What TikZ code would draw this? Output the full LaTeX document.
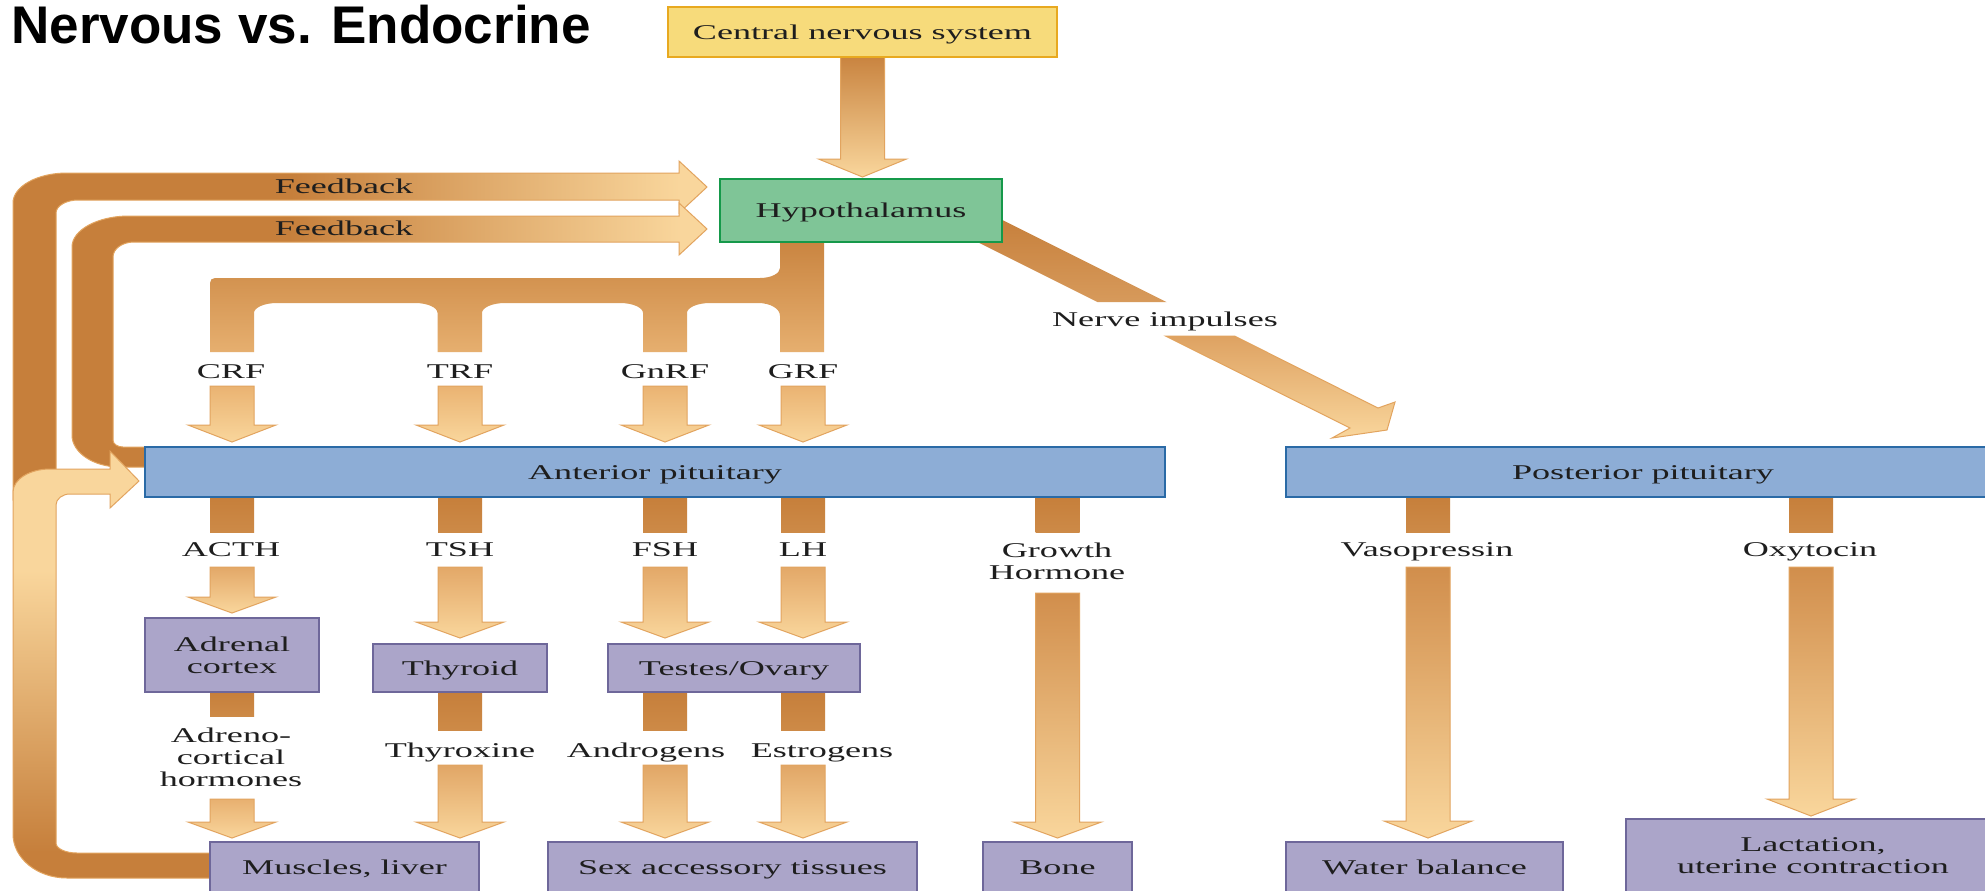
\documentclass[tikz,border=0pt]{standalone}
\usepackage{fontspec}
\newfontfamily\dfont{Liberation Serif}[FakeStretch=1.72]
\newfontfamily\tfont{Liberation Sans}
\definecolor{dk}{HTML}{C67F3B}
\definecolor{dk2}{HTML}{CD8A47}
\definecolor{lt}{HTML}{F9D69C}
\definecolor{ledge}{HTML}{E2A45F}
\definecolor{tA}{HTML}{C98440}
\definecolor{tB}{HTML}{E6AF6F}
\definecolor{aA}{HTML}{EAB372}
\definecolor{aB}{HTML}{E3A868}
\definecolor{aC}{HTML}{D18E4C}
\definecolor{aD}{HTML}{E1A666}
\definecolor{aE}{HTML}{E8B070}
\definecolor{nA}{HTML}{D79A5B}
\definecolor{nB}{HTML}{DEA262}
\definecolor{cnsfill}{HTML}{F7DB7B}
\definecolor{cnsdraw}{HTML}{E8A920}
\definecolor{hypfill}{HTML}{7FC597}
\definecolor{hypdraw}{HTML}{15994A}
\definecolor{pitfill}{HTML}{8DADD6}
\definecolor{pitdraw}{HTML}{2A6AA6}
\definecolor{tgtfill}{HTML}{ABA5C9}
\definecolor{tgtdraw}{HTML}{6E679A}
\definecolor{txt}{HTML}{1E1E1E}
\pgfdeclarehorizontalshading{fbB}{100bp}{color(0bp)=(dk); color(45bp)=(dk); color(73bp)=(lt); color(100bp)=(lt)}
\pgfdeclarehorizontalshading{fbC}{100bp}{color(0bp)=(dk); color(42bp)=(dk); color(73bp)=(lt); color(100bp)=(lt)}
\pgfdeclareverticalshading{fbA}{100bp}{color(0bp)=(dk); color(28bp)=(dk); color(61bp)=(lt); color(100bp)=(lt)}
% fat downward arrow: x, y start, y head back, y tip, top colour, bottom colour
\newcommand\fatdown[6]{%
  \path[band, top color=#5, bottom color=#6] (#1-22,#2) -- (#1+22,#2) -- (#1+22,#3) -- (#1+44,#3) -- (#1,#4) -- (#1-44,#3) -- (#1-22,#3) -- cycle;}
% short bar: x, y1, y2, top colour, bottom colour
\newcommand\stub[5]{%
  \path[top color=#4, bottom color=#5] (#1-22,#2) rectangle (#1+22,#3);}
\begin{document}
\begin{tikzpicture}[x=0.5pt,y=-0.5pt,
  lbl/.style={font=\dfont\fontsize{10.5}{11}\selectfont, text=txt, inner sep=0pt, align=center},
  one/.style={lbl, text height=7pt, text depth=0pt},
  tgt/.style={lbl, fill=tgtfill, draw=tgtdraw, line width=0.8pt},
  pit/.style={one, fill=pitfill, draw=pitdraw, line width=1pt, minimum height=25pt},
  band/.style={draw=ledge, line width=0.5pt}]
\useasboundingbox (0,0) rectangle (1985,890);
\clip (0,0) rectangle (1985,890);
\fill[white] (0,0) rectangle (1985,890);

% title
\node[anchor=base west, inner sep=0pt, font=\tfont\bfseries\fontsize{26.5}{30}\selectfont] (title) at (11,43) {Nervous vs. Endocrine};

% feedback band to hypothalamus (outer)
\path[band, shade, shading=fbB] (13,500) -- (13,203) .. controls (13,186.5) and (37,173) .. (67,173) -- (679,173) -- (679,161) -- (707,187) -- (679,213) -- (679,200) -- (78,200) .. controls (66.4,200) and (56,205.8) .. (56,213) -- (56,500) -- cycle;
% feedback band from anterior pituitary (inner)
\path[band, shade, shading=fbC] (146,447) -- (123,447) .. controls (117.5,447) and (113,443.9) .. (113,440) -- (113,257) .. controls (113,248.7) and (122.4,242) .. (134,242) -- (679,242) -- (679,255) -- (707,229) -- (679,203) -- (679,216) -- (129,216) .. controls (97.5,216) and (72,230) .. (72,247) -- (72,435) .. controls (72,452.7) and (93.5,467) .. (120,467) -- (146,467) -- cycle;
% band from muscles to anterior pituitary
\path[band, shade, shading=fbA] (211,878) -- (67,878) .. controls (37.2,878) and (13,858.3) .. (13,834) -- (13,492) .. controls (13,479.3) and (29.6,469) .. (50,469) -- (110,469) -- (110,451) -- (139,481) -- (110,508) -- (110,494) -- (70,494) .. controls (62.3,494) and (56,499) .. (56,505) -- (56,843) .. controls (56,848.5) and (65.4,853) .. (77,853) -- (211,853) -- cycle;

% releasing-factor tree below hypothalamus
\path[top color=tA, bottom color=tB] (780,240) -- (780,268) .. controls (780,273.5) and (771,278) .. (760,278)
  -- (215,278) .. controls (212,278) and (210,280) .. (210,283)
  -- (210,352) -- (254,352) -- (254,313) .. controls (254,307.5) and (264.4,303) .. (277,303)
  -- (415,303) .. controls (427.6,303) and (437.5,307.5) .. (437.5,313)
  -- (437.5,352) -- (482,352) -- (482,313) .. controls (482,307.5) and (492.4,303) .. (505,303)
  -- (620,303) .. controls (632.6,303) and (643,307.5) .. (643,313)
  -- (643,352) -- (687,352) -- (687,313) .. controls (687,307.5) and (697.4,303) .. (710,303)
  -- (758,303) .. controls (770,303) and (780,308.4) .. (780,316)
  -- (780,352) -- (824,352) -- (824,240) -- cycle;

% nerve impulses band
\path[top color=dk, bottom color=nA] (925.5,216) -- (994.5,216) -- (1166.5,302) -- (1097.5,302) -- cycle;
\path[band, top color=nB, bottom color=lt] (1165.5,336) -- (1234.5,336) -- (1378,408) -- (1395,402) -- (1387,430) -- (1332,438) -- (1350,428) -- cycle;

% CNS -> hypothalamus
\fatdown{862.5}{57}{159}{177}{tA}{lt}

% releasing factor arrows to anterior pituitary
\fatdown{232}{386}{425}{442}{aA}{lt}
\fatdown{460}{386}{425}{442}{aA}{lt}
\fatdown{665}{386}{425}{442}{aA}{lt}
\fatdown{803}{386}{425}{442}{aA}{lt}

% stubs below pituitaries
\stub{232}{497}{532}{dk}{dk2}
\stub{460}{497}{532}{dk}{dk2}
\stub{665}{497}{532}{dk}{dk2}
\stub{803}{497}{532}{dk}{dk2}
\stub{1057.5}{497}{532}{dk}{dk2}
\stub{1428}{497}{532}{dk}{dk2}
\stub{1811}{497}{532}{dk}{dk2}

% hormone arrows
\fatdown{232}{567}{597}{613}{aB}{lt}
\fatdown{460}{567}{622}{638}{aB}{lt}
\fatdown{665}{567}{622}{638}{aB}{lt}
\fatdown{803}{567}{622}{638}{aB}{lt}
\fatdown{1057.5}{593}{822}{838}{aC}{lt}
\fatdown{1428}{567}{821}{838}{aC}{lt}
\fatdown{1811}{567}{799}{816}{aC}{lt}

% stubs below glands
\stub{232}{692}{716}{dk}{dk2}
\stub{460}{692}{730}{dk}{dk2}
\stub{665}{692}{730}{dk}{dk2}
\stub{803}{692}{730}{dk}{dk2}

% arrows to target tissues
\fatdown{232}{799}{822}{838}{aE}{lt}
\fatdown{460}{765}{822}{838}{aD}{lt}
\fatdown{665}{765}{822}{838}{aD}{lt}
\fatdown{803}{765}{822}{838}{aD}{lt}

% boxes
\node[one, fill=cnsfill, draw=cnsdraw, line width=1.2pt, minimum width=194.5pt, minimum height=25pt] (cns) at (862.5,32) {Central nervous system};
\node[one, fill=hypfill, draw=hypdraw, line width=1.3pt, minimum width=141pt, minimum height=31.5pt] (hyp) at (861,210.5) {Hypothalamus};
\node[pit, minimum width=510pt] (ant) at (655,472) {Anterior pituitary};
\node[pit, minimum width=357pt] (post) at (1643,472) {Posterior pituitary};
\node[tgt, minimum width=87pt, minimum height=37pt] (adr) at (232,655) {Adrenal\\cortex};
\node[tgt, one, minimum width=87pt, minimum height=24pt] (thy) at (460,668) {Thyroid};
\node[tgt, one, minimum width=126pt, minimum height=24pt] (tes) at (734,668) {Testes/Ovary};
\node[tgt, one, minimum width=134.5pt, minimum height=25pt] (mus) at (344.5,867) {Muscles, liver};
\node[tgt, one, minimum width=184.5pt, minimum height=25pt] (sex) at (732.5,867) {Sex accessory tissues};
\node[tgt, one, minimum width=74.5pt, minimum height=25pt] (bone) at (1057.5,867) {Bone};
\node[tgt, one, minimum width=138.5pt, minimum height=25pt] (water) at (1424.5,867) {Water balance};
\node[tgt, minimum width=187pt, minimum height=37pt] (lact) at (1813,856) {Lactation,\\uterine contraction};

% labels
\node[one] (fb1) at (344,186) {Feedback};
\node[one] (fb2) at (344,228) {Feedback};
\node[one] (crf) at (231,371) {CRF};
\node[one] (trf) at (460,371) {TRF};
\node[one] (gnrf) at (665,371) {GnRF};
\node[one] (grf) at (803,371) {GRF};
\node[one] (nerve) at (1165,319) {Nerve impulses};
\node[one] (acth) at (231,549) {ACTH};
\node[one] (tsh) at (460,549) {TSH};
\node[one] (fsh) at (665,549) {FSH};
\node[one] (lh) at (803,549) {LH};
\node[lbl] (gh) at (1057,561) {Growth\\Hormone};
\node[one] (vaso) at (1427,549) {Vasopressin};
\node[one] (oxy) at (1810,549) {Oxytocin};
\node[lbl] (adh) at (231,757) {Adreno-\\cortical\\hormones};
\node[one] (thx) at (460,750) {Thyroxine};
\node[one] (andr) at (646,750) {Androgens};
\node[one] (estr) at (822,750) {Estrogens};
\end{tikzpicture}
\end{document}
